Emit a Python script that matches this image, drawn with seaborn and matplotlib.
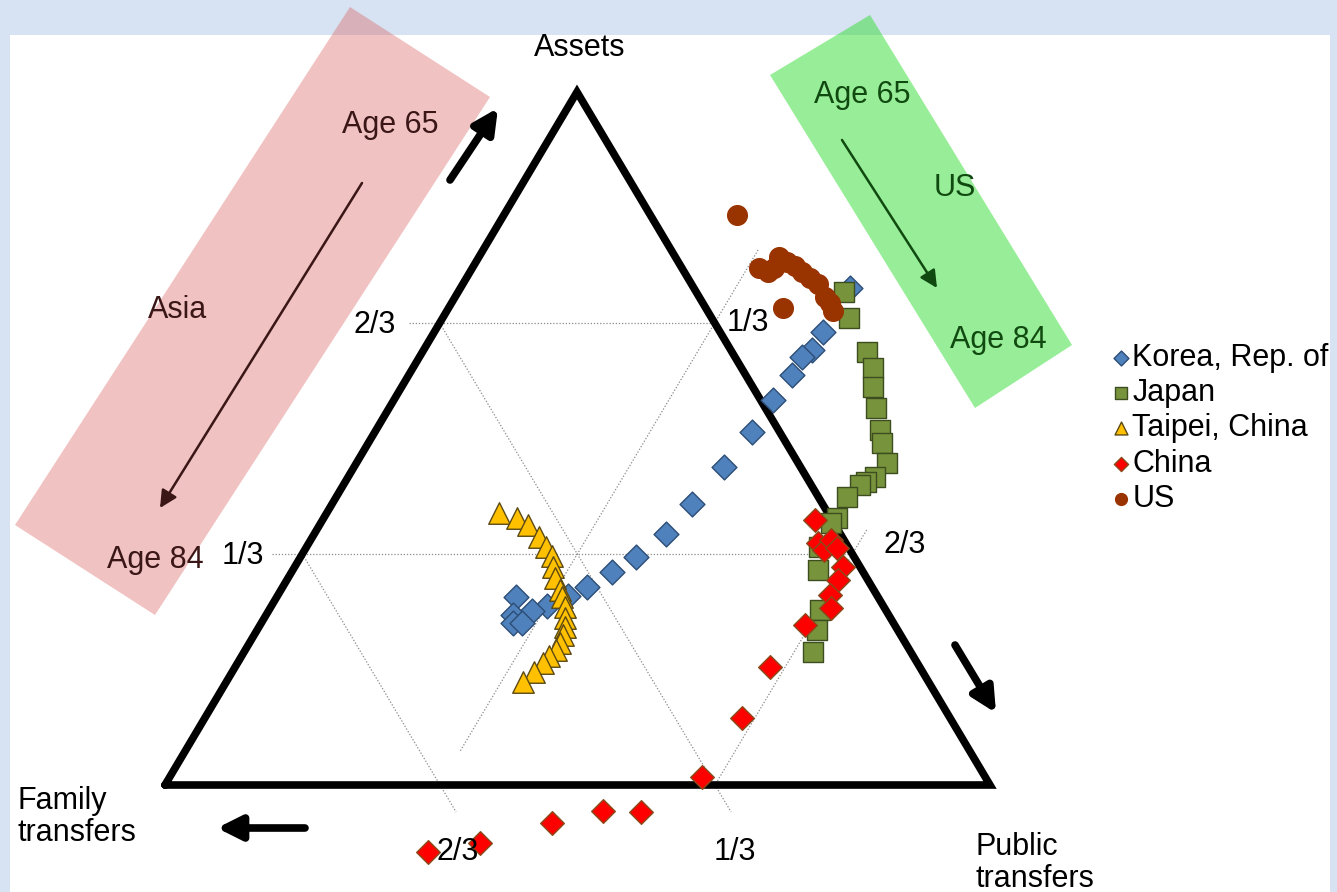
import numpy as np
import matplotlib
matplotlib.use('Agg')
import matplotlib.pyplot as plt
import seaborn as sns
from matplotlib.patches import Polygon, Rectangle

# Ternary shares (assets share, public transfers share);
# family transfers share = 1 - assets - public. Ages 65 -> 84.
korea_assets = [0.717, 0.654, 0.628, 0.618, 0.592, 0.556, 0.509, 0.459, 0.405, 0.362,
                0.329, 0.307, 0.286, 0.273, 0.258, 0.251, 0.271, 0.245, 0.234, 0.234]
korea_public = [0.472, 0.471, 0.471, 0.464, 0.464, 0.459, 0.457, 0.448, 0.437, 0.426,
                0.407, 0.388, 0.369, 0.352, 0.334, 0.319, 0.290, 0.299, 0.305, 0.316]

japan_assets = [0.711, 0.674, 0.625, 0.602, 0.574, 0.544, 0.512, 0.494, 0.465, 0.444,
                0.437, 0.433, 0.416, 0.385, 0.378, 0.343, 0.310, 0.253, 0.224, 0.192]
japan_public = [0.468, 0.493, 0.539, 0.557, 0.571, 0.590, 0.611, 0.622, 0.643, 0.639,
                0.632, 0.626, 0.619, 0.622, 0.619, 0.622, 0.637, 0.668, 0.678, 0.689]

taipei_assets = [0.392, 0.385, 0.375, 0.358, 0.343, 0.330, 0.315, 0.299, 0.281, 0.271,
                 0.257, 0.241, 0.228, 0.216, 0.205, 0.195, 0.186, 0.176, 0.163, 0.149]
taipei_public = [0.209, 0.234, 0.253, 0.274, 0.291, 0.304, 0.313, 0.324, 0.338, 0.346,
                 0.356, 0.365, 0.371, 0.374, 0.377, 0.376, 0.372, 0.370, 0.366, 0.359]

china_assets = [0.382, 0.349, 0.339, 0.354, 0.342, 0.315, 0.296, 0.274, 0.255, 0.231,
                0.170, 0.097, 0.012, -0.039, -0.038, -0.055, -0.084, -0.097]
china_public = [0.597, 0.617, 0.630, 0.631, 0.644, 0.665, 0.668, 0.669, 0.680, 0.661,
                0.648, 0.651, 0.645, 0.597, 0.550, 0.497, 0.424, 0.367]

us_assets = [0.823, 0.746, 0.740, 0.746, 0.762, 0.755, 0.749, 0.740, 0.732, 0.723,
             0.704, 0.696, 0.684, 0.688]
us_public = [0.282, 0.348, 0.361, 0.366, 0.364, 0.377, 0.390, 0.402, 0.416, 0.431,
             0.449, 0.458, 0.468, 0.405]

grid_fracs = [1 / 3, 2 / 3]

# triangle corners in pixel space (family, public, assets)
FAM = np.array([165.0, 785.0])
PUB = np.array([990.0, 785.0])
AST = np.array([577.0, 92.0])


def to_xy(assets, public):
    a = np.asarray(assets, dtype=float)
    p = np.asarray(public, dtype=float)
    f = 1 - a - p
    x = f * FAM[0] + p * PUB[0] + a * AST[0]
    y = f * FAM[1] + p * PUB[1] + a * AST[1]
    return x, y


sns.set_theme(style='white')
plt.rcParams['font.family'] = ['Liberation Sans', 'DejaVu Sans']
plt.rcParams['text.color'] = 'black'

W, H = 1337, 892
fig = plt.figure(figsize=(W / 100, H / 100), dpi=100)
fig.patch.set_facecolor('#d7e3f2')
ax = fig.add_axes([0, 0, 1, 1])
ax.set_xlim(0, W)
ax.set_ylim(H, 0)
ax.set_facecolor('none')
ax.axis('off')

# white slide panel and the two shaded boxes
ax.add_patch(Rectangle((10, 35), 1320, 870, facecolor='white', edgecolor='none', zorder=0))
ax.add_patch(Polygon([(350, 7), (490, 97), (155, 615), (15, 525)], closed=True,
                     facecolor='#d95f5f', alpha=0.38, edgecolor='none', zorder=1))
ax.add_patch(Polygon([(870, 15), (1072, 345), (975, 408), (770, 75)], closed=True,
                     facecolor='#33dd33', alpha=0.5, edgecolor='none', zorder=1))

# dotted grid lines
gkw = dict(color='#8a8a8a', lw=0.9, ls=(0, (1, 1.5)), zorder=2)
ext = 0.039
for g in grid_fracs:
    # constant assets (horizontal)
    x, y = to_xy([g, g], [-0.037, 1 - g])
    ax.plot(x, y, **gkw)
    # constant family (parallel to right side)
    a_end = np.array([1 - g, -ext])
    x, y = to_xy(a_end, 1 - g - a_end)
    ax.plot(x, y, **gkw)
x, y = to_xy([0.772, 0.048], [1 / 3, 1 / 3])
ax.plot(x, y, **gkw)
x, y = to_xy([0.368, 0.0], [2 / 3, 2 / 3])
ax.plot(x, y, **gkw)

# triangle outline
tx, ty = to_xy([0, 0, 1, 0], [0, 1, 0, 0])
ax.plot(tx, ty, color='black', lw=5.5, solid_joinstyle='miter', zorder=3)

series = [
    ('Korea, Rep. of', korea_assets, korea_public, 'D', '#4f81bd', '#2c4d75', 160),
    ('Japan', japan_assets, japan_public, 's', '#77933c', '#3d4d1f', 200),
    ('Taipei, China', taipei_assets, taipei_public, '^', '#ffc000', '#5c4a14', 240),
    ('China', china_assets, china_public, 'D', '#ff0000', '#8a4a1a', 145),
    ('US', us_assets, us_public, 'o', '#993300', '#993300', 200),
]
for name, a, p, mk, fc, ec, s in series:
    x, y = to_xy(a, p)
    sns.scatterplot(x=x, y=y, marker=mk, color=fc, edgecolor=ec, linewidth=1,
                    s=s, label=name, ax=ax, zorder=4, legend=True)

leg = ax.legend(loc='upper left', bbox_to_anchor=(1114, 343), bbox_transform=ax.transData,
                frameon=False, fontsize=22, markerscale=0.6, handlelength=0.45,
                handletextpad=0.15, labelspacing=0.17, borderaxespad=0, borderpad=0)

# text labels
fs = 22
tkw = dict(fontsize=fs, ha='center', va='center', zorder=5)
ax.text(580, 48, 'Assets', **tkw)
ax.text(375, 325, '2/3', **tkw)
ax.text(243, 556, '1/3', **tkw)
ax.text(748, 323, '1/3', **tkw)
ax.text(905, 545, '2/3', **tkw)
ax.text(458, 852, '2/3', **tkw)
ax.text(735, 852, '1/3', **tkw)
ax.text(18, 817, 'Family\ntransfers', fontsize=fs, ha='left', va='center',
        linespacing=1.12, zorder=5)
ax.text(975, 863, 'Public\ntransfers', fontsize=fs, ha='left', va='center',
        linespacing=1.12, zorder=5)

pink_txt = '#3a1616'
ax.text(390, 125, 'Age 65', color=pink_txt, **tkw)
ax.text(178, 310, 'Asia', color=pink_txt, **tkw)
ax.text(155, 560, 'Age 84', color=pink_txt, **tkw)
green_txt = '#104a10'
ax.text(862, 95, 'Age 65', color=green_txt, **tkw)
ax.text(955, 188, 'US', color=green_txt, **tkw)
ax.text(998, 340, 'Age 84', color=green_txt, **tkw)

# arrows
big = dict(arrowstyle='-|>', lw=5.5, color='black', mutation_scale=36, shrinkA=0, shrinkB=0)
ax.annotate('', xy=(498, 108), xytext=(450, 180), arrowprops=big, zorder=5)
ax.annotate('', xy=(996, 713), xytext=(955, 645), arrowprops=big, zorder=5)
ax.annotate('', xy=(217, 828), xytext=(305, 828), arrowprops=big, zorder=5)
thin = dict(arrowstyle='-|>', lw=1.8, mutation_scale=26, shrinkA=0, shrinkB=0)
ax.annotate('', xy=(160, 508), xytext=(362, 183), arrowprops=dict(thin, color=pink_txt), zorder=5)
ax.annotate('', xy=(937, 288), xytext=(842, 140), arrowprops=dict(thin, color=green_txt), zorder=5)

fig.savefig('out.png', dpi=100, facecolor=fig.get_facecolor())
